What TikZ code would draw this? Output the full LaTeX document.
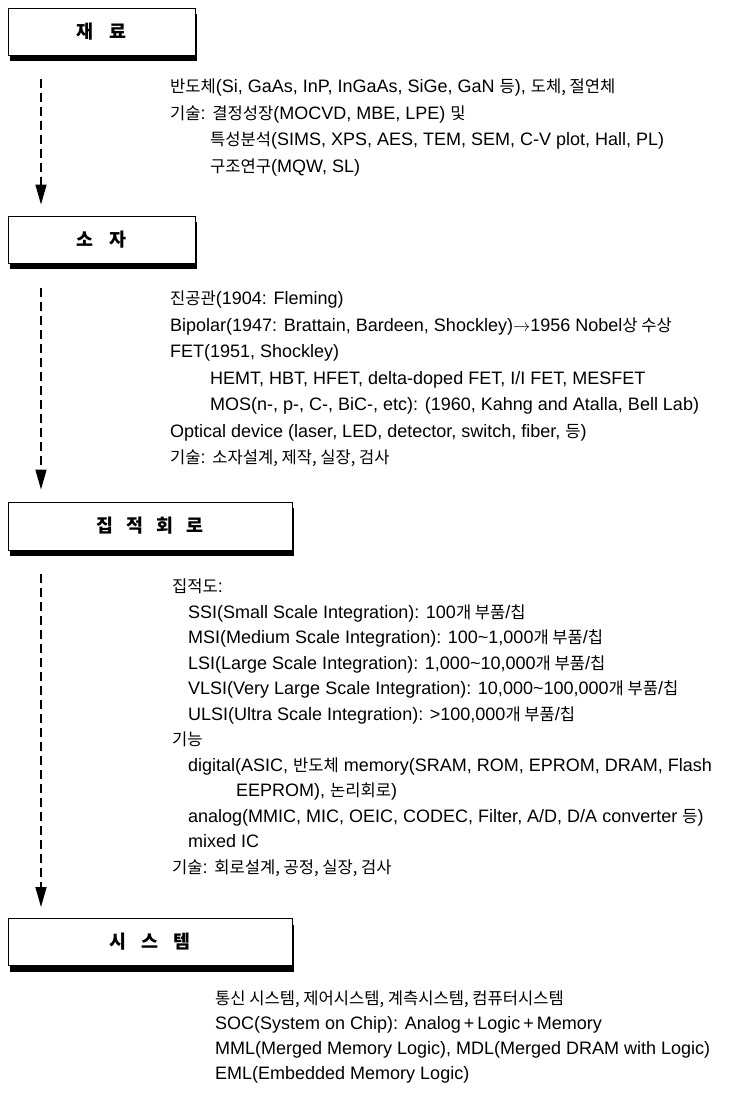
\documentclass[tikz,border=0pt]{standalone}
\usepackage{fontspec}
\setmainfont{Liberation Sans}
\newfontfamily\kr{Noto Sans CJK KR}[Scale=0.92]
\usetikzlibrary{arrows.meta,shadows}

\tikzset{
  stage/.style={draw,line width=1pt,fill=white,inner sep=0pt,
    drop shadow={shadow xshift=2pt,shadow yshift=-6pt,fill=black,opacity=1},
    font=\fontsize{20}{24}\selectfont\kr\bfseries},
  note/.style={anchor=north west,align=left,inner sep=0pt,
    font=\fontsize{18}{26.5}\selectfont},
  flow/.style={line width=1.6pt,dash pattern=on 9pt off 5pt,
    -{Triangle[length=20pt,width=11pt]}},
}

\begin{document}
\begin{tikzpicture}[x=1pt,y=-1pt]
\useasboundingbox (0,0) rectangle (750,1096);
\coordinate (lane) at (41,0);

% stages
\node[stage,minimum width=187,minimum height=47] (mat) at (101.5,31.5) {재\hspace{17pt}료};
\node[stage,minimum width=187,minimum height=47] (dev) at (101.5,239.5) {소\hspace{17pt}자};
\node[stage,minimum width=284,minimum height=48] (ic) at (150,526) {집\hspace{13pt}적\hspace{13pt}회\hspace{13pt}로};
\node[stage,minimum width=284,minimum height=47] (sys) at (150,942) {시\hspace{15pt}스\hspace{15pt}템};

% notes
\node[note] (matnote) at (170,79) {{\kr 반도체}(Si, GaAs, InP, InGaAs, SiGe, GaN {\kr 등}), {\kr 도체, 절연체}\\
{\kr 기술}: {\kr 결정성장}(MOCVD, MBE, LPE) {\kr 및}\\
\hspace*{40pt}{\kr 특성분석}(SIMS, XPS, AES, TEM, SEM, C-V plot, Hall, PL)\\
\hspace*{40pt}{\kr 구조연구}(MQW, SL)};

\node[note] (devnote) at (170,291) {{\kr 진공관}(1904: Fleming)\\
Bipolar(1947: Brattain, Bardeen, Shockley)$\rightarrow$1956 Nobel{\kr 상 수상}\\
FET(1951, Shockley)\\
\hspace*{40pt}HEMT, HBT, HFET, delta-doped FET, I/I FET, MESFET\\
\hspace*{40pt}MOS(n-, p-, C-, BiC-, etc): (1960, Kahng and Atalla, Bell Lab)\\
Optical device (laser, LED, detector, switch, fiber, {\kr 등})\\
{\kr 기술}: {\kr 소자설계, 제작, 실장, 검사}};

\node[note,font=\fontsize{18}{25.5}\selectfont] (icnote) at (172,579) {{\kr 집적도}:\\
\hspace*{16pt}SSI(Small Scale Integration): 100{\kr 개 부품}/{\kr 칩}\\
\hspace*{16pt}MSI(Medium Scale Integration): 100\textasciitilde1,000{\kr 개 부품}/{\kr 칩}\\
\hspace*{16pt}LSI(Large Scale Integration): 1,000\textasciitilde10,000{\kr 개 부품}/{\kr 칩}\\
\hspace*{16pt}VLSI(Very Large Scale Integration): 10,000\textasciitilde100,000{\kr 개 부품}/{\kr 칩}\\
\hspace*{16pt}ULSI(Ultra Scale Integration): >100,000{\kr 개 부품}/{\kr 칩}\\
{\kr 기능}\\
\hspace*{16pt}digital(ASIC, {\kr 반도체} memory(SRAM, ROM, EPROM, DRAM, Flash\\
\hspace*{64pt}EEPROM), {\kr 논리회로})\\
\hspace*{16pt}analog(MMIC, MIC, OEIC, CODEC, Filter, A/D, D/A converter {\kr 등})\\
\hspace*{16pt}mixed IC\\
{\kr 기술}: {\kr 회로설계, 공정, 실장, 검사}};

\node[note,font=\fontsize{18}{25}\selectfont] (sysnote) at (215,991) {{\kr 통신 시스템, 제어시스템, 계측시스템, 컴퓨터시스템}\\
SOC(System on Chip): Analog\,+\,Logic\,+\,Memory\\
MML(Merged Memory Logic), MDL(Merged DRAM with Logic)\\
EML(Embedded Memory Logic)};

% flow
\draw[flow,shorten <=23pt,shorten >=11pt] (mat.south -| lane) -- (dev.north -| lane);
\draw[flow,shorten <=24pt,shorten >=12pt] (dev.south -| lane) -- (ic.north -| lane);
\draw[flow,shorten <=23pt,shorten >=11pt] (ic.south -| lane) -- (sys.north -| lane);
\end{tikzpicture}
\end{document}
